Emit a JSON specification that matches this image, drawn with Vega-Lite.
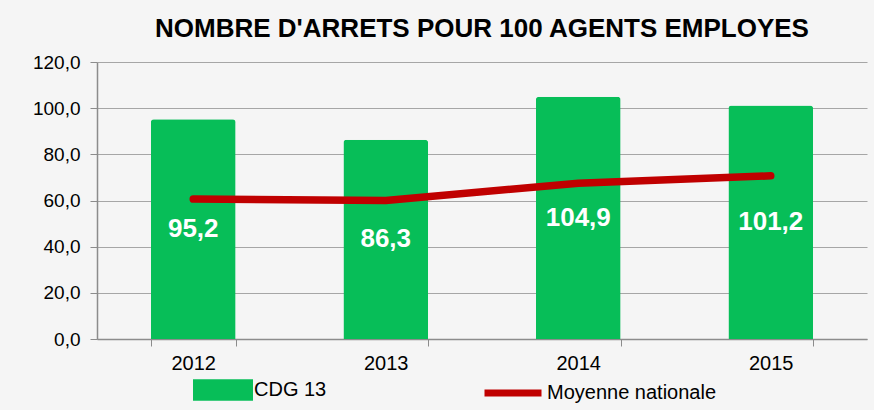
{
  "$schema": "https://vega.github.io/schema/vega-lite/v6.json",
  "autosize": {"type": "none"},
  "width": 770,
  "height": 277,
  "padding": {"left": 97, "top": 62, "right": 7, "bottom": 71},
  "background": "#F5F5F5",
  "config": {
    "font": "Liberation Sans",
    "view": {"stroke": null},
    "locale": {"number": {"decimal": ",", "thousands": " ", "grouping": [3], "currency": ["", " €"]}}
  },
  "title": {
    "text": "NOMBRE D'ARRETS POUR 100 AGENTS EMPLOYES",
    "font": "Liberation Sans",
    "fontSize": 26,
    "fontWeight": "bold",
    "color": "#000000",
    "anchor": "middle",
    "baseline": "alphabetic",
    "offset": -10
  },
  "data": {
    "values": [
      {"year": "2012", "cdg": 95.2, "moyenne": 60.6},
      {"year": "2013", "cdg": 86.3, "moyenne": 60.0},
      {"year": "2014", "cdg": 104.9, "moyenne": 67.5},
      {"year": "2015", "cdg": 101.2, "moyenne": 70.7}
    ]
  },
  "encoding": {
    "x": {
      "field": "year",
      "type": "ordinal",
      "scale": {"paddingInner": 0.56, "paddingOuter": 0.28},
      "axis": {
        "title": null,
        "labelAngle": 0,
        "labelFontSize": 20,
        "labelColor": "#000000",
        "labelPadding": 7,
        "tickBand": "extent",
        "tickSize": 7,
        "tickColor": "#8C8C8C",
        "domainColor": "#8C8C8C",
        "domainWidth": 1.5,
        "grid": false
      }
    }
  },
  "layer": [
    {
      "mark": {"type": "bar", "cornerRadiusTopLeft": 3, "cornerRadiusTopRight": 3},
      "encoding": {
        "y": {
          "field": "cdg",
          "type": "quantitative",
          "scale": {"domain": [0, 120]},
          "axis": {
            "title": null,
            "values": [0, 20, 40, 60, 80, 100, 120],
            "format": ".1f",
            "labelFontSize": 19,
            "labelColor": "#000000",
            "labelPadding": 10,
            "tickSize": 7,
            "tickColor": "#8C8C8C",
            "domainColor": "#8C8C8C",
            "domainWidth": 1.5,
            "gridColor": "#A6A6A6",
            "gridWidth": 1.2
          }
        },
        "fill": {
          "datum": "CDG 13",
          "scale": {"domain": ["CDG 13"], "range": ["#07BE58"]},
          "legend": {
            "title": null,
            "orient": "none",
            "legendX": 96,
            "legendY": 298,
            "symbolType": "M-1,-0.36H1V0.36H-1Z",
            "symbolSize": 3600,
            "symbolStrokeWidth": 0,
            "labelFontSize": 20,
            "labelColor": "#000000",
            "labelOffset": 1,
            "labelLimit": 400,
            "padding": 0
          }
        }
      }
    },
    {
      "mark": {"type": "line", "strokeWidth": 7.5, "strokeCap": "round", "strokeJoin": "round"},
      "encoding": {
        "y": {"field": "moyenne", "type": "quantitative", "scale": {"domain": [0, 120]}, "axis": null},
        "stroke": {
          "datum": "Moyenne nationale",
          "scale": {"domain": ["Moyenne nationale"], "range": ["#C00000"]},
          "legend": {
            "title": null,
            "orient": "none",
            "legendX": 384,
            "legendY": 299,
            "symbolType": "stroke",
            "symbolSize": 3249,
            "symbolStrokeWidth": 7,
            "labelFontSize": 20,
            "labelColor": "#000000",
            "labelOffset": 2,
            "labelLimit": 400,
            "padding": 0
          }
        }
      }
    },
    {
      "mark": {"type": "text", "color": "#FFFFFF", "fontWeight": "bold", "fontSize": 26, "baseline": "middle", "align": "center"},
      "encoding": {
        "y": {"field": "cdg", "type": "quantitative", "scale": {"domain": [0, 240]}, "axis": null},
        "text": {"field": "cdg", "type": "quantitative", "format": ".1f"}
      }
    }
  ],
  "resolve": {"scale": {"y": "independent"}}
}
